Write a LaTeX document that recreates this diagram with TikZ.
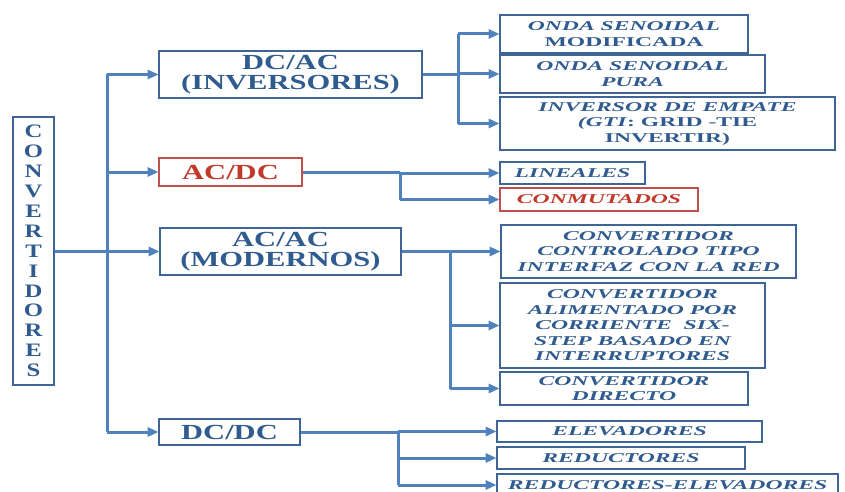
\documentclass[tikz,border=0pt]{standalone}
\usepackage{fontspec}
\setmainfont{Liberation Serif}
\newfontfamily\headfont{Liberation Serif}[FakeStretch=1.42]
\newfontfamily\leaffont{Liberation Serif}[FakeStretch=1.75]
\newfontfamily\rootfont{Liberation Serif}[FakeStretch=1.3]
\usetikzlibrary{arrows.meta}
\definecolor{boxblue}{HTML}{3F6596}
\definecolor{lineblue}{HTML}{4F81BD}
\definecolor{txtblue}{HTML}{305B8F}
\definecolor{redtxt}{HTML}{C0392B}
\definecolor{redbox}{HTML}{C0504D}
\begin{document}
\begin{tikzpicture}[x=1pt,y=-1pt,
  box/.style={draw=boxblue, line width=2.8pt, fill=white, inner sep=0pt, align=center, text=txtblue},
  headbox/.style={box, font=\headfont\bfseries\fontsize{21.5}{20}\selectfont},
  leafbox/.style={box, font=\leaffont\bfseries\fontsize{13.5}{15.5}\selectfont},
  redbox/.style={draw=redbox, text=redtxt},
  conn/.style={draw=lineblue, line width=3pt},
  arr/.style={conn, -{Triangle[length=11pt,width=9pt]}, shorten >=-1pt}
]
\useasboundingbox (0,0) rectangle (845,492);
\clip (0,0) rectangle (845,492);

% root
\node[box, minimum width=41, minimum height=268, font=\rootfont\bfseries\fontsize{19}{19.9}\selectfont] (conv) at (33.5,251)
  {C\\O\\N\\V\\E\\R\\T\\I\\D\\O\\R\\E\\S};

% level 1
\node[headbox, minimum width=263, minimum height=47] (dcac) at (290.5,74.5) {DC/AC\\(INVERSORES)};
\node[headbox, redbox, minimum width=143, minimum height=28] (acdc) at (230.5,172) {AC/DC};
\node[headbox, minimum width=241, minimum height=47] (acac) at (280.5,251.5) {AC/AC\\(MODERNOS)};
\node[headbox, minimum width=141, minimum height=26] (dcdc) at (229.5,432) {DC/DC};

% level 2
\node[leafbox, minimum width=248, minimum height=38] (mod) at (624,34) {\itshape ONDA SENOIDAL\\MODIFICADA};
\node[leafbox, minimum width=265, minimum height=38] (pura) at (632.5,74) {\itshape ONDA SENOIDAL\\\itshape PURA};
\node[leafbox, minimum width=335, minimum height=53] (gti) at (667.5,123.5) {\itshape INVERSOR DE EMPATE\\\textit{(GTI}: GRID -TIE\\INVERTIR)};
\node[leafbox, minimum width=145, minimum height=22] (lin) at (572.5,173) {\itshape LINEALES};
\node[leafbox, redbox, minimum width=198, minimum height=23] (conm) at (599,199.5) {\itshape CONMUTADOS};
\node[leafbox, minimum width=295, minimum height=53] (ctrl) at (648.5,251.5) {\itshape CONVERTIDOR\\\itshape CONTROLADO TIPO\\\itshape INTERFAZ CON LA RED};
\node[leafbox, minimum width=265, minimum height=85] (alim) at (632.5,325.5) {\itshape CONVERTIDOR\\\itshape ALIMENTADO POR\\\itshape CORRIENTE\ \ SIX-\\\itshape STEP BASADO EN\\\itshape INTERRUPTORES};
\node[leafbox, minimum width=248, minimum height=33] (dir) at (624,388.5) {\itshape CONVERTIDOR\\\itshape DIRECTO};
\node[leafbox, minimum width=265, minimum height=21] (elev) at (629.5,431.5) {\itshape ELEVADORES};
\node[leafbox, minimum width=248, minimum height=22] (red) at (621,458) {\itshape REDUCTORES};
\node[leafbox, minimum width=341, minimum height=22] (redel) at (667.5,485) {\itshape REDUCTORES-ELEVADORES};

% junction columns
\coordinate (j0) at (107,0);
\coordinate (j1) at (458,0);
\coordinate (j2) at (400,0);
\coordinate (j3) at (450,0);
\coordinate (j4) at (398,0);

% trunk
\draw[conn] (conv.east) -- (conv.east -| j0);
\draw[conn] (j0 |- dcac.west) -- (j0 |- dcdc.west);
\foreach \n in {dcac,acdc,acac,dcdc} \draw[arr] (j0 |- \n.west) -- (\n.west);

% DC/AC
\draw[conn] (dcac.east) -- (dcac.east -| j1);
\draw[conn] (j1 |- mod.west) -- (j1 |- gti.west);
\foreach \n in {mod,pura,gti} \draw[arr] (j1 |- \n.west) -- (\n.west);

% AC/DC
\draw[conn] (acdc.east) -- (acdc.east -| j2);
\draw[conn] (j2 |- lin.west) -- (j2 |- conm.west);
\foreach \n in {lin,conm} \draw[arr] (j2 |- \n.west) -- (\n.west);

% AC/AC
\draw[conn] (acac.east) -- (acac.east -| j3);
\draw[conn] (j3 |- acac.east) -- (j3 |- dir.west);
\foreach \n in {ctrl,alim,dir} \draw[arr] (j3 |- \n.west) -- (\n.west);

% DC/DC
\draw[conn] (dcdc.east) -- (dcdc.east -| j4);
\draw[conn] (j4 |- dcdc.east) -- (j4 |- redel.west);
\foreach \n in {elev,red,redel} \draw[arr] (j4 |- \n.west) -- (\n.west);
\end{tikzpicture}
\end{document}
